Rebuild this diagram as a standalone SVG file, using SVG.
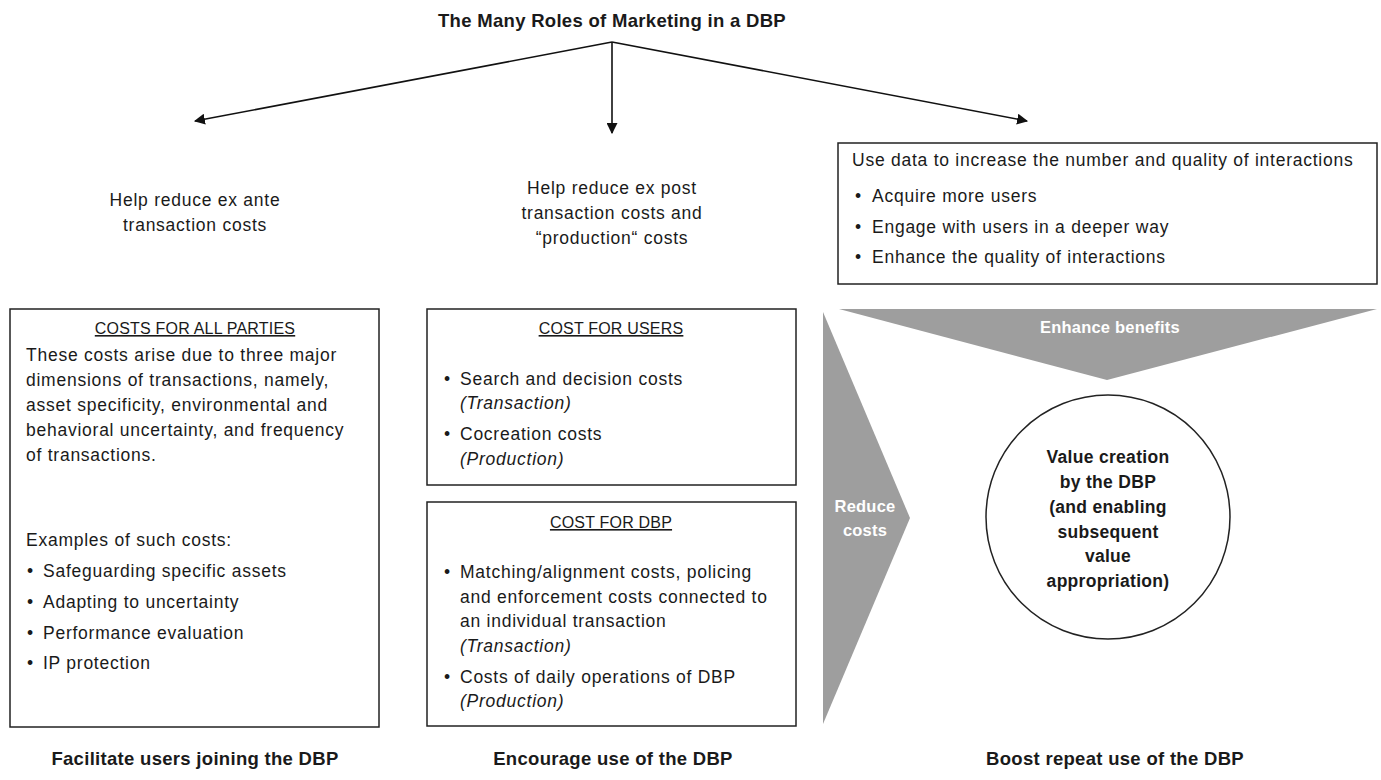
<svg xmlns="http://www.w3.org/2000/svg" width="1381" height="780" viewBox="0 0 1381 780">
<defs>
<marker id="ah" viewBox="0 0 10 10" refX="9" refY="5" markerWidth="11" markerHeight="11" markerUnits="userSpaceOnUse" orient="auto"><path d="M0,0 L10,5 L0,10 z" fill="#111"/></marker>
<style>
text{font-family:"Liberation Sans",Arial,sans-serif;fill:#1a1a1a;font-size:17.5px;letter-spacing:0.75px}
.t{font-weight:bold;font-size:18.5px;letter-spacing:0.3px}
.h{font-size:16px;letter-spacing:0.2px}
.b{font-weight:bold;font-size:17.5px;letter-spacing:0.3px}
.w{fill:#fff;font-weight:bold;font-size:16.5px;letter-spacing:0.2px}
.i{font-style:italic}
.u{text-decoration:underline}
.c{text-anchor:middle}
.box{fill:#fff;stroke:#222;stroke-width:1.5}
.edge{stroke:#111;stroke-width:1.6;fill:none;marker-end:url(#ah)}
.g{fill:#9e9e9e}
</style>
</defs>
<rect width="1381" height="780" fill="#fff"/>
<text class="t c" x="612" y="27">The Many Roles of Marketing in a DBP</text>
<g id="connectors">
<line class="edge" x1="612" y1="42" x2="195" y2="121"/>
<line class="edge" x1="612" y1="42" x2="612" y2="133"/>
<line class="edge" x1="612" y1="42" x2="1027" y2="121"/>
</g>
<g id="label-left">
<text class="c" x="195" y="206">Help reduce ex ante</text>
<text class="c" x="195" y="231">transaction costs</text>
</g>
<g id="label-mid">
<text class="c" x="612" y="194">Help reduce ex post</text>
<text class="c" x="612" y="219">transaction costs and</text>
<text class="c" x="612" y="244">“production“ costs</text>
</g>
<g id="box-data">
<rect class="box" x="838" y="143" width="539" height="141"/>
<text x="852" y="166">Use data to increase the number and quality of interactions</text>
<text x="855" y="202">•</text><text x="872" y="202">Acquire more users</text>
<text x="855" y="233">•</text><text x="872" y="233">Engage with users in a deeper way</text>
<text x="855" y="263">•</text><text x="872" y="263">Enhance the quality of interactions</text>
</g>
<g id="box-all">
<rect class="box" x="10" y="309" width="369" height="418"/>
<text class="h c u" x="195" y="334">COSTS FOR ALL PARTIES</text>
<text x="26" y="361">These costs arise due to three major</text>
<text x="26" y="386">dimensions of transactions, namely,</text>
<text x="26" y="411">asset specificity, environmental and</text>
<text x="26" y="436">behavioral uncertainty, and frequency</text>
<text x="26" y="461">of transactions.</text>
<text x="26" y="546">Examples of such costs:</text>
<text x="27" y="577">•</text><text x="43" y="577">Safeguarding specific assets</text>
<text x="27" y="608">•</text><text x="43" y="608">Adapting to uncertainty</text>
<text x="27" y="639">•</text><text x="43" y="639">Performance evaluation</text>
<text x="27" y="669">•</text><text x="43" y="669">IP protection</text>
</g>
<g id="box-users">
<rect class="box" x="427" y="309" width="369" height="176"/>
<text class="h c u" x="611" y="334">COST FOR USERS</text>
<text x="444" y="385">•</text><text x="460" y="385">Search and decision costs</text>
<text class="i" x="460" y="409">(Transaction)</text>
<text x="444" y="440">•</text><text x="460" y="440">Cocreation costs</text>
<text class="i" x="460" y="465">(Production)</text>
</g>
<g id="box-dbp">
<rect class="box" x="427" y="502" width="369" height="224"/>
<text class="h c u" x="611" y="528">COST FOR DBP</text>
<text x="444" y="578">•</text><text x="460" y="578">Matching/alignment costs, policing</text>
<text x="460" y="603">and enforcement costs connected to</text>
<text x="460" y="627">an individual transaction</text>
<text class="i" x="460" y="652">(Transaction)</text>
<text x="444" y="683">•</text><text x="460" y="683">Costs of daily operations of DBP</text>
<text class="i" x="460" y="707">(Production)</text>
</g>
<g id="enhance">
<polygon class="g" points="839,309 1377,309 1107,380"/>
<text class="w c" x="1110" y="333">Enhance benefits</text>
</g>
<g id="reduce">
<polygon class="g" points="823,312 910,518 823,724"/>
<text class="w c" x="865" y="512">Reduce</text>
<text class="w c" x="865" y="536">costs</text>
</g>
<g id="value">
<circle cx="1108" cy="517" r="122" fill="#fff" stroke="#222" stroke-width="1.5"/>
<text class="b c" x="1108" y="463">Value creation</text>
<text class="b c" x="1108" y="488">by the DBP</text>
<text class="b c" x="1108" y="513">(and enabling</text>
<text class="b c" x="1108" y="538">subsequent</text>
<text class="b c" x="1108" y="562">value</text>
<text class="b c" x="1108" y="587">appropriation)</text>
</g>
<g id="footer">
<text class="t c" x="195" y="765">Facilitate users joining the DBP</text>
<text class="t c" x="613" y="765">Encourage use of the DBP</text>
<text class="t c" x="1115" y="765">Boost repeat use of the DBP</text>
</g>
</svg>
